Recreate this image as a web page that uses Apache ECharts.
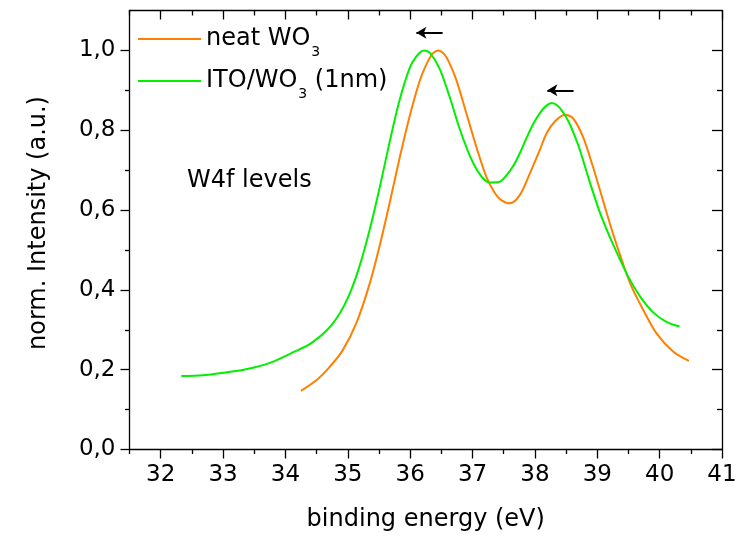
<!DOCTYPE html>
<html>
<head>
<meta charset="utf-8">
<script src="https://cdn.jsdelivr.net/npm/echarts@6/dist/echarts.min.js"></script>
<style>
  html, body { margin: 0; padding: 0; background: #fff; }
  #chart { width: 742px; height: 537px; }
</style>
</head>
<body>
<div id="chart"></div>
<script>
// W4f core-level spectra, binding energy (eV) vs normalised intensity
const neatX = [34.25, 34.50, 34.71, 34.92, 35.14, 35.35, 35.51, 35.67, 35.83, 35.99, 36.15, 36.26, 36.36, 36.45,
  36.55, 36.63, 36.74, 36.90, 37.06, 37.22, 37.36, 37.46, 37.60, 37.76, 37.92, 38.08, 38.19, 38.32, 38.48, 38.61,
  38.77, 38.93, 39.09, 39.25, 39.41, 39.55, 39.74, 39.95, 40.22, 40.47];
const neatY = [0.147, 0.174, 0.207, 0.249, 0.318, 0.415, 0.510, 0.617, 0.730, 0.834, 0.922, 0.965, 0.992, 1.000,
  0.990, 0.968, 0.926, 0.843, 0.759, 0.684, 0.642, 0.625, 0.617, 0.638, 0.692, 0.751, 0.793, 0.822, 0.839, 0.830,
  0.784, 0.709, 0.625, 0.542, 0.467, 0.408, 0.349, 0.291, 0.245, 0.222];

const itoX = [32.33, 32.68, 32.94, 33.37, 33.75, 34.17, 34.39, 34.66, 34.87, 35.03, 35.19, 35.35, 35.51,
  35.67, 35.83, 35.99, 36.10, 36.22, 36.32, 36.47, 36.63, 36.78, 36.92, 37.04, 37.17, 37.28, 37.42, 37.54,
  37.66, 37.76, 37.87, 37.97, 38.08, 38.18, 38.27, 38.36, 38.46, 38.56, 38.64, 38.72, 38.88, 39.04, 39.20,
  39.36, 39.49, 39.68, 39.90, 40.11, 40.32];
const itoY = [0.184, 0.186, 0.191, 0.201, 0.217, 0.247, 0.264, 0.298, 0.341, 0.390, 0.460, 0.550, 0.655,
  0.770, 0.875, 0.955, 0.985, 1.000, 0.993, 0.955, 0.885, 0.810, 0.750, 0.709, 0.679, 0.669, 0.670, 0.686,
  0.712, 0.743, 0.782, 0.815, 0.843, 0.861, 0.868, 0.862, 0.843, 0.815, 0.785, 0.751, 0.670, 0.595, 0.533,
  0.478, 0.435, 0.385, 0.343, 0.320, 0.308];

// shift arrows: [tail x, head x, y]
const shiftArrows = [
  [36.52, 36.10, 1.044],
  [38.62, 38.20, 0.900]
];

const xMajor = [32, 33, 34, 35, 36, 37, 38, 39, 40, 41];
const xMinor = [31.5, 32.5, 33.5, 34.5, 35.5, 36.5, 37.5, 38.5, 39.5, 40.5];
const yMajor = [0, 0.2, 0.4, 0.6, 0.8, 1.0];
const yMinor = [0.1, 0.3, 0.5, 0.7, 0.9];

const seriesNames = ['neat WO3', 'ITO/WO3 (1nm)'];
const legendRich = { 'neat WO3': '{a|neat WO}{s|3}', 'ITO/WO3 (1nm)': '{a|ITO/WO}{s|3}{a| (1nm)}' };

const FONT = 'DejaVu Sans';
const black = '#000';

function zip(xs, ys) { return xs.map((x, i) => [x, ys[i]]); }

function xAxisDef(pos, ticks, len, inside, showLine, labels) {
  return {
    type: 'value', min: 31.5, max: 41, position: pos,
    axisLine: { show: showLine, onZero: false, lineStyle: { color: black, width: 1.3 } },
    axisTick: { show: true, inside: inside, length: len, customValues: ticks, lineStyle: { color: black, width: 1.3 } },
    axisLabel: labels ? { show: true, customValues: ticks, fontFamily: FONT, fontSize: 23, color: black, margin: 14 } : { show: false },
    splitLine: { show: false }
  };
}
function yAxisDef(pos, ticks, len, inside, showLine, labels) {
  return {
    type: 'value', min: 0, max: 1.1, position: pos,
    axisLine: { show: showLine, onZero: false, lineStyle: { color: black, width: 1.3 } },
    axisTick: { show: true, inside: inside, length: len, customValues: ticks, lineStyle: { color: black, width: 1.3 } },
    axisLabel: labels ? {
      show: true, customValues: ticks, fontFamily: FONT, fontSize: 23, color: black, margin: 14,
      formatter: v => v.toFixed(1).replace('.', ',')
    } : { show: false },
    splitLine: { show: false }
  };
}

const xAxes = [
  xAxisDef('bottom', xMajor, 9, false, true, true),
  xAxisDef('bottom', xMinor, 4.5, false, false, false),
  xAxisDef('top', xMajor, 9, true, true, false),
  xAxisDef('top', xMinor, 5, true, false, false)
];
Object.assign(xAxes[0], {
  name: 'binding energy (eV)', nameLocation: 'middle', nameGap: 58,
  nameTextStyle: { fontFamily: FONT, fontSize: 24, color: black }
});
const yAxes = [
  yAxisDef('left', yMajor, 9, false, true, true),
  yAxisDef('left', yMinor, 4.5, false, false, false),
  yAxisDef('right', yMajor, 10, true, true, false),
  yAxisDef('right', yMinor, 5, true, false, false)
];

const richStyle = {
  a: { fontFamily: FONT, fontSize: 24, color: black },
  s: { fontFamily: FONT, fontSize: 14, color: black, padding: [26, 0, 0, 1] }
};

function legendDef(name, top) {
  return {
    data: [name], left: 138, top: top, orient: 'vertical',
    icon: 'rect', itemWidth: 63, itemHeight: 2.2, padding: 0,
    selectedMode: false,
    formatter: n => legendRich[n],
    textStyle: { rich: richStyle }
  };
}

const chart = echarts.init(document.getElementById('chart'), null, { renderer: 'canvas' });
chart.setOption({
  animation: false,
  backgroundColor: '#fff',
  grid: { left: 129.5, right: 20, top: 10.5, bottom: 87.5, containLabel: false },
  xAxis: xAxes,
  yAxis: yAxes,
  legend: [legendDef(seriesNames[0], 27), legendDef(seriesNames[1], 69)],
  graphic: [
    {
      type: 'text', left: 187, top: 169,
      style: { text: 'W4f levels', fontFamily: FONT, fontSize: 24, fill: black }
    },
    {
      type: 'text', x: 39, y: 223, rotation: Math.PI / 2,
      style: {
        text: 'norm. Intensity (a.u.)', fontFamily: FONT, fontSize: 24, fill: black,
        align: 'center', verticalAlign: 'middle'
      }
    }
  ],
  series: [
    {
      name: seriesNames[0], type: 'line', data: zip(neatX, neatY),
      showSymbol: false, smooth: 0.3, color: '#ff8000',
      lineStyle: { width: 2, color: '#ff8000' }
    },
    {
      name: seriesNames[1], type: 'line', data: zip(itoX, itoY),
      showSymbol: false, smooth: 0.3, color: '#00f000',
      lineStyle: { width: 2, color: '#00f000' },
      markLine: {
        silent: true, symbol: ['none', 'arrow'], symbolSize: 10,
        label: { show: false },
        lineStyle: { color: black, width: 2, type: 'solid' },
        data: shiftArrows.map(a => [
          { coord: [a[0], a[2]], symbol: 'none' },
          { coord: [a[1], a[2]], symbol: 'arrow', symbolSize: [9, 10] }
        ])
      }
    }
  ]
});
</script>
</body>
</html>
